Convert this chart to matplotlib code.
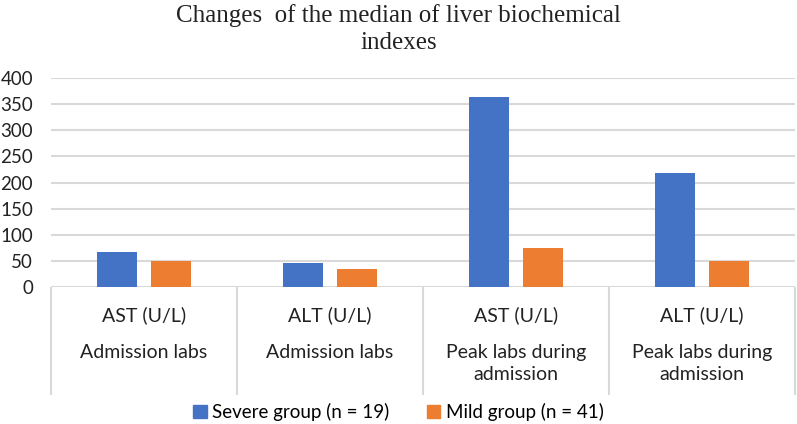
import matplotlib
matplotlib.use("Agg")
import matplotlib.pyplot as plt
import numpy as np
from matplotlib.patches import Patch

metrics = ["AST (U/L)", "ALT (U/L)", "AST (U/L)", "ALT (U/L)"]
phases = ["Admission labs", "Admission labs", "Peak labs during\nadmission", "Peak labs during\nadmission"]
severe = [67, 46, 364, 219]
mild = [49, 35, 75, 50]
series_names = ["Severe group (n = 19)", "Mild group (n = 41)"]
yticks = [0, 50, 100, 150, 200, 250, 300, 350, 400]

blue = "#4472C4"
orange = "#ED7D31"
grid_c = "#D9D9D9"
sans = ["Lato", "DejaVu Sans"]

W, H = 797, 424
fig = plt.figure(figsize=(W / 100, H / 100), dpi=100)
left, right = 51 / W, 795 / W
y0, y400 = 287, 78
ax = fig.add_axes([left, 1 - y0 / H, right - left, (y0 - y400) / H])

x = np.arange(len(metrics))
bw = 0.22
off = 0.145
ax.bar(x - off, severe, bw, color=blue, zorder=3)
ax.bar(x + off, mild, bw, color=orange, zorder=3)

ax.set_xlim(-0.5, len(metrics) - 0.5)
ax.set_ylim(0, 400)
ax.set_yticks(yticks)
ax.set_yticklabels([str(v) for v in yticks], fontfamily=sans, fontsize=13.5, color="#222222")
ax.tick_params(axis="y", length=0, pad=13)
ax.tick_params(axis="x", length=0, labelbottom=False)
for v in yticks:
    ax.axhline(v, color=grid_c, lw=1.5, zorder=1)
for s in ax.spines.values():
    s.set_visible(False)

# category table lines
axh = y0 - y400
bottom_line = -(395 - y0) / axh
ax.vlines(np.arange(len(metrics) + 1) - 0.5, bottom_line, 0, color=grid_c, lw=1.5,
          transform=ax.get_xaxis_transform(), clip_on=False)

for i in range(len(metrics)):
    ax.text(i, -(315 - y0) / axh, metrics[i], transform=ax.get_xaxis_transform(),
            ha="center", va="center", fontfamily=sans, fontsize=14, color="#222222")
    ax.text(i, -(344 - y0) / axh, phases[i], transform=ax.get_xaxis_transform(),
            ha="center", va="top", fontfamily=sans, fontsize=14, color="#222222",
            linespacing=1.35)

fig.text(0.5, 1 - 29 / H, "Changes  of the median of liver biochemical\nindexes",
         ha="center", va="center", fontfamily="Liberation Serif", fontsize=18,
         linespacing=1.25, color="#222222")

handles = [Patch(color=blue), Patch(color=orange)]
fig.legend(handles, series_names, loc="center", bbox_to_anchor=(0.5, 1 - 412 / H),
           ncol=2, frameon=False, prop={"family": sans, "size": 13.5},
           handlelength=0.7, handleheight=0.7, handletextpad=0.3, columnspacing=2.0)

fig.savefig("out.png", dpi=100)
